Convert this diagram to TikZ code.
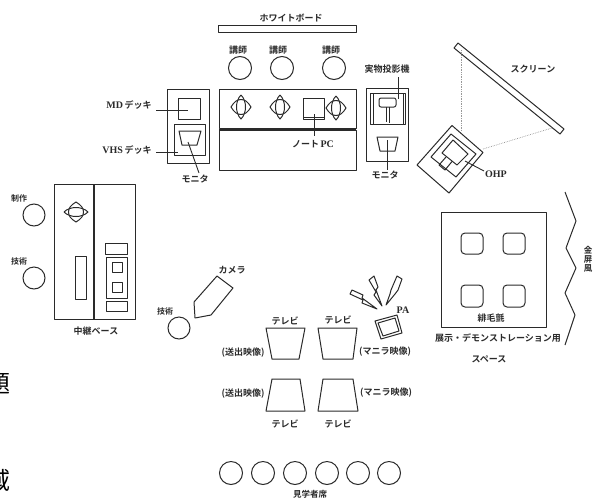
\documentclass[tikz,border=0pt]{standalone}
\usepackage{fontspec}
\setmainfont{Liberation Serif}
\newfontfamily\jp{Noto Sans CJK JP}[BoldFont={* Bold}]
\definecolor{ink}{HTML}{2a2a2a}
\tikzset{
  ln/.style={draw=ink,line width=1pt,line join=round},
  hv/.style={draw=ink,line width=1.5pt},
  lead/.style={draw=ink,line width=0.9pt},
  lbl/.style={inner sep=0pt,text=ink,font=\fontsize{9}{10}\selectfont\jp\bfseries},
  ltn/.style={inner sep=0pt,text=ink,font=\fontsize{10}{10}\selectfont\rmfamily\bfseries},
  sm/.style={circle,draw=ink,line width=1pt,minimum size=22pt,inner sep=0pt},
  big/.style={circle,draw=ink,line width=1pt,minimum size=23pt,inner sep=0pt},
  dot/.style={draw=gray!80,line width=0.7pt,densely dotted},
  spk/.pic={
    \draw[ln] (0,-12) .. controls (6,-6) and (6,6) .. (0,12) .. controls (-6,6) and (-6,-6) .. (0,-12);
    \draw[ln] (-10,0) .. controls (-7,-5) and (-4,-7.5) .. (0,-7.5) .. controls (4,-7.5) and (7,-5) .. (10,0)
       .. controls (7,5) and (4,7.5) .. (0,7.5) .. controls (-4,7.5) and (-7,5) .. (-10,0) -- cycle;
  }
}
\begin{document}
\begin{tikzpicture}[x=1pt,y=-1pt]
\useasboundingbox (0,0) rectangle (593,498);
\begin{scope}
\clip (0,0) rectangle (593,498);
\node[anchor=east,inner sep=0pt,font=\fontsize{24}{24}\selectfont\jp,text=black] (cutA) at (11,384) {題};
\node[anchor=east,inner sep=0pt,font=\fontsize{24}{24}\selectfont\jp,text=black] (cutB) at (11,480) {域};
\node[lbl,anchor=center] (kinbyobu) at (588,259) {\parbox{9pt}{\centering\fontsize{8.5}{9}\selectfont 金\\屏\\風}};
\end{scope}

% whiteboard
\node[lbl] (wbl) at (291,18) {ホワイトボード};
\draw[ln] (218,25) rectangle (356,32);
% teachers
\node[big] (t1) at (240,68) {}; \node[big] (t2) at (282,68) {}; \node[big] (t3) at (334,68) {};
\node[lbl] (t1l) at (238,50) {講師}; \node[lbl] (t2l) at (278,50) {講師}; \node[lbl] (t3l) at (331,50) {講師};
% table
\draw[ln] (219,89) rectangle (356,128.5);
\draw[ln] (219,130) rectangle (356,170);
\draw[hv] (219,129.3) -- (356,129.3);
\pic at (241,107) {spk}; \pic at (280,107) {spk}; \pic at (336,108) {spk};
\draw[ln] (303,98.5) rectangle (324,119);
\draw[hv] (303,117.5) -- (324,117.5);
\node[lbl] (pcl) at (313,144) {ノート\,{\rmfamily\fontsize{10}{10}\selectfont PC}};
\coordinate (pcA) at (314,114); \coordinate (pcB) at (314,136);
\draw[lead] (pcA) -- (pcB);
% deck rack
\draw[ln] (167,89) rectangle (209,163);
\draw[ln] (178,98) rectangle (200,119);
\draw[ln] (174,124) rectangle (205,155);
\draw[ln] (179,131) -- (201,131) -- (197,145) -- (182,145) -- cycle;
\node[lbl] (mdl) at (129,105) {{\rmfamily\fontsize{10}{10}\selectfont MD}\,デッキ};
\node[lbl] (vhl) at (127,150) {{\rmfamily\fontsize{10}{10}\selectfont VHS}\,デッキ};
\node[lbl] (mon1) at (195,179) {モニタ};
\coordinate (mdA) at (156,110); \coordinate (mdB) at (188,110);
\coordinate (vhA) at (156,152); \coordinate (vhB) at (178,152);
\coordinate (moA) at (188,142); \coordinate (moB) at (199,173);
\draw[lead] (mdA) -- (mdB); \draw[lead] (vhA) -- (vhB); \draw[lead] (moA) -- (moB);
% visualizer
\draw[ln] (366,88) rectangle (408,161);
\draw[ln] (370,93) rectangle (405,124);
\draw[ln] (373,93) -- (373,124); \draw[ln] (403,93) -- (403,124);
\draw[ln,rounded corners=2pt] (379,98) rectangle (396,107);
\draw[ln] (386,107) -- (386,122); \draw[ln] (389,107) -- (389,123);
\node[lbl] (vizl) at (387,69) {実物投影機};
\coordinate (vzA) at (398,77); \coordinate (vzB) at (398,99);
\draw[lead] (vzA) -- (vzB);
\draw[ln] (377,137) -- (398,137) -- (395,151) -- (380,151) -- cycle;
\node[lbl] (mon2) at (385,175) {モニタ};
\coordinate (m2A) at (387,140); \coordinate (m2B) at (387,170);
\draw[lead] (m2A) -- (m2B);
% screen
\draw[ln] (458,43) -- (454,48) -- (560,134) -- (564,129) -- cycle;
\node[lbl] (scl) at (533,69) {スクリーン};
\coordinate (d1A) at (461,50); \coordinate (d1B) at (461,130);
\coordinate (d2A) at (483,149); \coordinate (d2B) at (552,128);
\draw[dot] (d1A) -- (d1B); \draw[dot] (d2A) -- (d2B);
% OHP
\draw[ln] (452,125.5) -- (483,152.5) -- (449,193) -- (417,165) -- cycle;
\draw[ln] (451,134) -- (476,154) -- (456,177) -- (431,157) -- cycle;
\draw[ln] (453,140) -- (468,154) -- (457,165) -- (442,153) -- cycle;
\draw[ln] (446,157) -- (439,165) -- (445,170) -- (452,161.5);
\coordinate (ohA) at (465,161); \coordinate (ohB) at (484,171);
\draw[lead] (ohA) -- (ohB);
\node[ltn] (ohl) at (496,174) {OHP};
% relay base
\draw[ln] (54,184) rectangle (135,319);
\draw[hv,line width=1.8pt] (94,184) -- (94,319);
\pic[rotate=90] at (76,212) {spk};
\draw[ln] (75,256) rectangle (86,299);
\draw[ln] (105.5,243) rectangle (127,254);
\draw[ln] (106,257) rectangle (127,298);
\draw[ln] (112,262) rectangle (122,272);
\draw[ln] (112,282) rectangle (122,292);
\draw[ln] (106,301) rectangle (127,311);
\node[lbl] (rel) at (96,331) {中継ベース};
\node[sm] (c1) at (34,215) {}; \node[sm] (c2) at (34,278) {};
\node[lbl,font=\fontsize{8}{9}\selectfont\jp\bfseries] (c1l) at (19,198) {制作};
\node[lbl,font=\fontsize{8}{9}\selectfont\jp\bfseries] (c2l) at (19,261) {技術};
% camera
\draw[ln] (217,276) -- (233,288) -- (211,315) -- (195,318) -- (194,302) -- cycle;
\node[lbl] (caml) at (232,270) {カメラ};
\node[lbl,font=\fontsize{8}{9}\selectfont\jp\bfseries] (c3l) at (165,311) {技術};
\node[sm] (c3) at (179,328) {};
% TVs
\draw[ln] (266,328) -- (305,328) -- (299,359) -- (272,359) -- cycle;
\draw[ln] (318,328) -- (357,328) -- (353,359) -- (323,359) -- cycle;
\draw[ln] (272,379) -- (300,379) -- (305,411) -- (266,411) -- cycle;
\draw[ln] (323,379) -- (353,379) -- (358,411) -- (318,411) -- cycle;
\node[lbl] (tv1) at (285,321) {テレビ}; \node[lbl] (tv2) at (338,320) {テレビ};
\node[lbl] (tv3) at (285,424) {テレビ}; \node[lbl] (tv4) at (338,424) {テレビ};
\node[lbl] (s1) at (243,353) {(送出映像)};
\node[lbl] (s2) at (243,394) {(送出映像)};
\node[lbl] (m1) at (385,352) {(マニラ映像)};
\node[lbl] (m2) at (386,393) {(マニラ映像)};
% PA
\draw[ln] (375,321) -- (397,315) -- (402,333) -- (381,339) -- cycle;
\draw[ln] (378,323) -- (395,318) -- (399,331) -- (383,336) -- cycle;
\node[ltn] (pal) at (403,310) {PA};
\draw[ln] (377,309) -- (362,303) -- (363,300) -- (350,294) -- (352,290) -- (363,295) -- (362,298) -- cycle;
\draw[ln] (382,306) -- (374,295) -- (376,292) -- (369,280) -- (374,276) -- (378,287) -- (376,290) -- cycle;
\draw[ln] (386,305) -- (390,294) -- (391,290) -- (397,276) -- (402,279) -- (398,290) -- (395,294) -- cycle;
% carpet
\draw[ln] (441,212) rectangle (546,327);
\draw[ln,rounded corners=4pt] (461,233) rectangle (483,254);
\draw[ln,rounded corners=4pt] (503,233) rectangle (525,254);
\draw[ln,rounded corners=4pt] (461,285) rectangle (483,307);
\draw[ln,rounded corners=4pt] (503,285) rectangle (525,307);
\node[lbl] (cpl) at (491,318) {緋毛氈};
\node[lbl] (dml) at (498,338) {展示・デモンストレーション用};
\node[lbl] (spl) at (489,359) {スペース};
% gold screen
\draw[ln] (565,192) -- (576,221) -- (566,248) -- (576,268) -- (565,293) -- (575,315) -- (565,345);
% observers
\foreach \i/\xx in {1/231,2/263,3/295,4/327,5/358,6/389} \node[big] (ob\i) at (\xx,473) {};
\node[lbl,font=\fontsize{8.5}{9}\selectfont\jp\bfseries] (obl) at (310,494) {見学者席};
\end{tikzpicture}
\end{document}
